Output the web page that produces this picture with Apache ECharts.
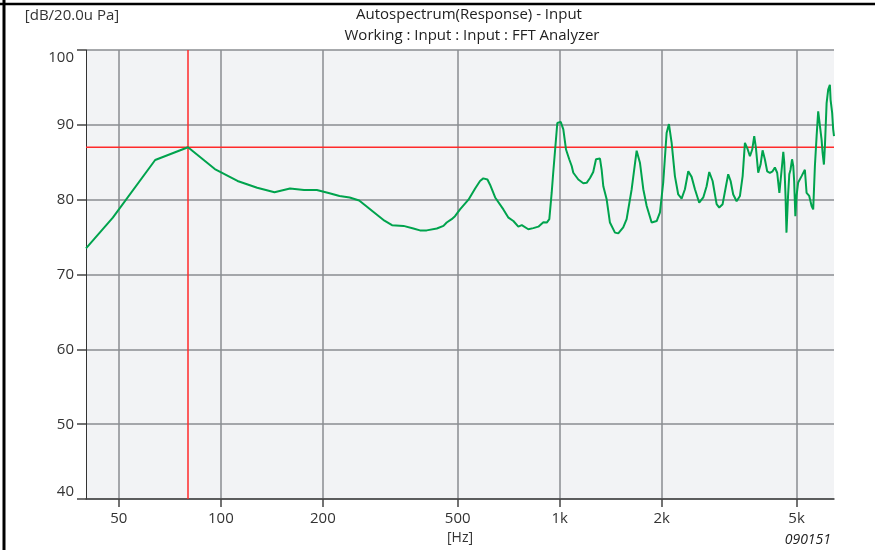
<!DOCTYPE html>
<html>
<head>
<meta charset="utf-8">
<script src="https://cdn.jsdelivr.net/npm/echarts@6/dist/echarts.min.js"></script>
<style>html,body{margin:0;padding:0;background:#fff}#c{width:875px;height:550px}</style>
</head>
<body>
<div id="c"></div>
<script>
// ---- data ----
var freqs = [40,48,64,80,96,112,128,144,160,176,192,208,224,240,256,304,320,346,370,387,405,434,454,464,480,491,508,538,563,582,595,612,623,645,682,706,730,755,773,808,836,865,895,916,932,947,957,984,1007,1025,1044,1067,1085,1097,1135,1174,1201,1229,1256,1280,1315,1330,1345,1376,1407,1456,1489,1540,1576,1631,1687,1726,1765,1806,1868,1933,1977,2021,2068,2101,2140,2188,2238,2290,2342,2396,2451,2507,2581,2653,2714,2763,2827,2905,2957,3026,3095,3143,3195,3252,3328,3404,3467,3521,3577,3643,3700,3751,3795,3854,3916,3970,4032,4096,4172,4249,4316,4384,4450,4530,4570,4600,4640,4670,4720,4760,4800,4850,4890,4920,4960,5000,5056,5175,5292,5354,5450,5540,5600,5665,5731,5793,5860,5929,5969,6023,6063,6134,6200,6272,6302,6370,6414,6450];
var levels = [73.5,77.6,85.3,87.0,84.1,82.5,81.6,81.0,81.5,81.3,81.3,80.9,80.5,80.3,79.9,77.2,76.6,76.5,76.15,75.9,75.9,76.15,76.5,76.95,77.4,77.8,78.7,80.0,81.5,82.5,82.85,82.7,82.0,80.3,78.7,77.6,77.15,76.4,76.6,76.05,76.2,76.4,77.0,76.95,77.4,80.9,83.6,90.25,90.4,89.4,86.7,85.4,84.5,83.6,82.7,82.2,82.25,82.9,83.7,85.4,85.5,84.0,81.8,80.05,76.95,75.6,75.5,76.3,77.4,81.4,86.55,84.9,81.4,79.15,76.95,77.15,78.3,82.3,88.9,90.1,87.6,83.15,80.7,80.15,81.4,83.8,83.05,81.4,79.6,80.3,81.8,83.7,82.5,79.4,78.95,79.4,81.8,83.4,82.5,80.7,79.8,80.5,83.15,87.6,86.9,85.8,86.7,88.5,86.9,83.6,84.7,86.6,85.4,83.8,83.6,83.8,84.3,83.6,80.9,84.5,86.4,85.0,80.5,75.6,80.5,83.4,84.0,85.4,84.5,82.5,77.8,80.5,82.3,83.15,84.0,80.9,80.5,79.15,78.7,84.5,88.5,91.8,91.8,88.0,86.25,84.7,87.1,92.9,94.7,95.35,93.35,91.6,89.4,88.5];
var xTickValues = [50,100,200,500,1000,2000,5000];
var xTickLabels = ['50','100','200','500','1k','2k','5k'];
var cursorFreq = 80;
var cursorLevel = 87;
var xMin = 40, xMax = 6450, yMin = 40, yMax = 100;

var FONT = '"Open Sans", "Noto Sans", sans-serif';
var RED = '#ff2a2a';
var chart = echarts.init(document.getElementById('c'), null, {renderer: 'canvas'});
var pts = freqs.map(function (f, i) { return [f, levels[i]]; });

chart.setOption({
  animation: false,
  backgroundColor: '#ffffff',
  grid: {left: 86, right: 41, top: 50, bottom: 49, show: true, backgroundColor: '#f2f3f5', borderWidth: 0},
  xAxis: {
    type: 'log', logBase: 10, min: xMin, max: xMax,
    name: '[Hz]', nameLocation: 'middle', nameGap: 31,
    nameTextStyle: {fontFamily: FONT, fontSize: 14, color: '#333'},
    axisLine: {show: true, onZero: false, lineStyle: {color: '#444', width: 1.5}},
    axisTick: {show: true, length: 8, customValues: xTickValues, lineStyle: {color: '#444', width: 1.5}},
    minorTick: {show: false},
    axisLabel: {show: true, customValues: xTickValues, margin: 12, fontFamily: FONT, fontSize: 15, color: '#333',
      formatter: function (v) { var i = xTickValues.indexOf(Math.round(v)); return i >= 0 ? xTickLabels[i] : ''; }},
    splitLine: {show: true, lineStyle: {color: '#8a8c90', width: 1.5}},
    minorSplitLine: {show: false}
  },
  yAxis: {
    type: 'value', min: yMin, max: yMax, interval: 10,
    name: '[dB/20.0u Pa]', nameLocation: 'end', nameGap: 27,
    nameTextStyle: {fontFamily: FONT, fontSize: 15, color: '#333', align: 'center', padding: [0, 28, 0, 0]},
    axisLine: {show: true, lineStyle: {color: '#333', width: 1}},
    axisTick: {show: true, length: 9, lineStyle: {color: '#444', width: 1.5}},
    axisLabel: {show: true, margin: 12, fontFamily: FONT, fontSize: 15, color: '#333',
      verticalAlignMinLabel: 'bottom', verticalAlignMaxLabel: 'top'},
    splitLine: {show: true, lineStyle: {color: '#8a8c90', width: 1.5}}
  },
  series: [
    {
      name: 'cursorV', type: 'line', data: [[cursorFreq, yMin], [cursorFreq, yMax]],
      showSymbol: false, symbol: 'none', silent: true, z: 2,
      lineStyle: {color: RED, width: 1.5, opacity: 1}
    },
    {
      name: 'cursorH', type: 'line', data: [[xMin, cursorLevel], [xMax, cursorLevel]],
      showSymbol: false, symbol: 'none', silent: true, z: 2,
      lineStyle: {color: RED, width: 1.5, opacity: 1}
    },
    {
      name: 'Autospectrum', type: 'line', data: pts, showSymbol: false, symbol: 'none', smooth: false,
      lineStyle: {color: '#00a34d', width: 2}, z: 3
    }
  ],
  graphic: [
    {type: 'text', style: {text: 'Autospectrum(Response) - Input', x: 469, y: 15, textAlign: 'center', textVerticalAlign: 'middle', font: '15px ' + FONT, fill: '#222'}},
    {type: 'text', style: {text: 'Working : Input : Input : FFT Analyzer', x: 472, y: 36, textAlign: 'center', textVerticalAlign: 'middle', font: '15px ' + FONT, fill: '#222'}},
    {type: 'text', style: {text: '090151', x: 831, y: 540, textAlign: 'right', textVerticalAlign: 'middle', font: 'italic 14px ' + FONT, fill: '#222'}},
    {type: 'line', shape: {x1: 4, y1: 0, x2: 4, y2: 550}, style: {stroke: '#000', lineWidth: 3}},
    {type: 'line', shape: {x1: 0, y1: 4, x2: 875, y2: 4}, style: {stroke: '#000', lineWidth: 2.5}}
  ]
});
</script>
</body>
</html>
